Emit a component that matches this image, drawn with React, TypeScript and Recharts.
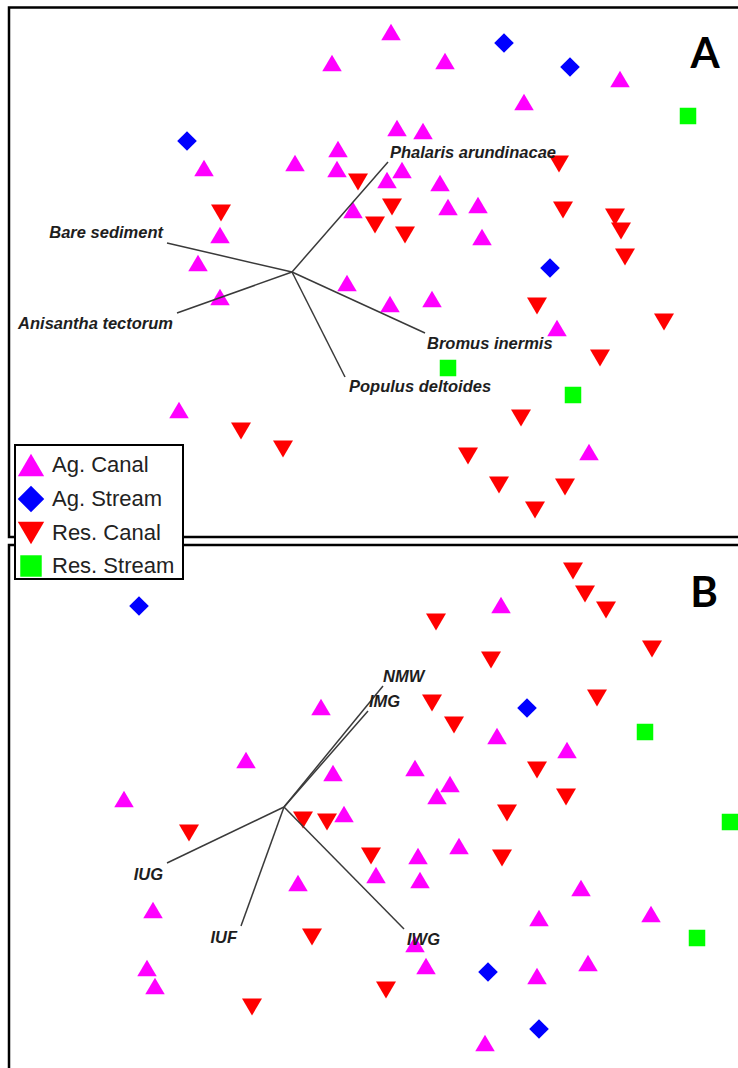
import React from 'react';
import {
  ScatterChart,
  Scatter,
  XAxis,
  YAxis,
  ReferenceLine,
  ReferenceArea,
  ReferenceDot,
  Legend,
} from 'recharts';

// ---------- series names ----------
const SERIES = ['Ag. Canal', 'Ag. Stream', 'Res. Canal', 'Res. Stream'];

// ---------- Panel A (ordination scores, plot units) ----------
const aAgCanal: number[][] = [
  [391, 32], [332, 63], [445, 61], [620, 79], [524, 102], [397, 128], [423, 131],
  [338, 149], [204, 168], [295, 163], [337, 169], [402, 170], [387, 180], [440, 183],
  [353, 210], [448, 207], [478, 205], [220, 235], [482, 237], [198, 263], [347, 283],
  [220, 297], [390, 304], [432, 299], [557, 328], [179, 410], [589, 452],
];
const aAgStream: number[][] = [[504, 43], [570, 67], [187, 141], [550, 268]];
const aResCanal: number[][] = [
  [559, 164], [358, 182], [392, 207], [563, 210], [221, 213], [615, 217], [375, 225],
  [405, 235], [621, 231], [625, 257], [537, 306], [664, 322], [600, 358], [521, 418],
  [241, 431], [283, 449], [468, 456], [499, 485], [565, 487], [535, 510],
];
const aResStream: number[][] = [[688, 116], [448, 368], [573, 395]];
const aOrigin = { x: 292, y: 272 };
const aVectors = [
  { name: 'Phalaris arundinacae', x: 388, y: 162 },
  { name: 'Bare sediment', x: 167, y: 243 },
  { name: 'Anisantha tectorum', x: 177, y: 313 },
  { name: 'Populus deltoides', x: 345, y: 377 },
  { name: 'Bromus inermis', x: 425, y: 333 },
];

// ---------- Panel B ----------
const bAgCanal: number[][] = [
  [501, 605], [321, 707], [497, 736], [567, 750], [246, 760], [415, 768], [333, 773],
  [450, 784], [437, 796], [124, 799], [344, 814], [459, 846], [418, 856], [376, 875],
  [420, 880], [298, 883], [581, 888], [153, 910], [651, 914], [539, 918], [415, 944],
  [588, 963], [426, 966], [147, 968], [537, 976], [155, 986], [485, 1043],
];
const bAgStream: number[][] = [[139, 606], [527, 708], [488, 972], [539, 1029]];
const bResCanal: number[][] = [
  [573, 571], [585, 594], [606, 610], [436, 622], [652, 649], [491, 660], [597, 698],
  [432, 703], [454, 725], [537, 770], [566, 797], [507, 813], [303, 820], [327, 822],
  [189, 833], [371, 856], [502, 858], [312, 937], [386, 990], [252, 1007],
];
const bResStream: number[][] = [[645, 732], [730, 822], [697, 938]];
const bOrigin = { x: 284, y: 807 };
const bVectors = [
  { name: 'NMW', x: 383, y: 686 },
  { name: 'IMG', x: 368, y: 711 },
  { name: 'IUG', x: 167, y: 863 },
  { name: 'IUF', x: 241, y: 926 },
  { name: 'IWG', x: 404, y: 929 },
];

// ---------- styling ----------
const COLORS: Record<string, string> = {
  'Ag. Canal': '#FF00FF',
  'Ag. Stream': '#0000FF',
  'Res. Canal': '#FF0000',
  'Res. Stream': '#00FF00',
};

const LABEL_STYLE: Record<string, { anchor: 'start' | 'end'; dx: number; dy: number }> = {
  'Phalaris arundinacae': { anchor: 'start', dx: 2, dy: -10 },
  'Bare sediment': { anchor: 'end', dx: -4, dy: -11 },
  'Anisantha tectorum': { anchor: 'end', dx: -4, dy: 10 },
  'Populus deltoides': { anchor: 'start', dx: 4, dy: 9 },
  'Bromus inermis': { anchor: 'start', dx: 2, dy: 10 },
  NMW: { anchor: 'start', dx: 0, dy: -10 },
  IMG: { anchor: 'start', dx: 1, dy: -10 },
  IUG: { anchor: 'end', dx: -4, dy: 11 },
  IUF: { anchor: 'end', dx: -4, dy: 11 },
  IWG: { anchor: 'start', dx: 3, dy: 10 },
};

const W = 738;
const FONT = '"Liberation Sans", Arial, sans-serif';

// ---------- marker shapes ----------
function markerPath(kind: string, cx: number, cy: number, scale = 1): React.ReactElement {
  const fill = COLORS[kind];
  if (kind === 'Ag. Canal') {
    const w = 19.5 * scale, h = 16.5 * scale;
    return <polygon points={`${cx},${cy - h / 2} ${cx + w / 2},${cy + h / 2} ${cx - w / 2},${cy + h / 2}`} fill={fill} />;
  }
  if (kind === 'Res. Canal') {
    const w = 20 * scale, h = 17 * scale;
    return <polygon points={`${cx - w / 2},${cy - h / 2} ${cx + w / 2},${cy - h / 2} ${cx},${cy + h / 2}`} fill={fill} />;
  }
  if (kind === 'Ag. Stream') {
    const r = 9.8 * scale;
    return <polygon points={`${cx},${cy - r} ${cx + r},${cy} ${cx},${cy + r} ${cx - r},${cy}`} fill={fill} />;
  }
  const s = 16.5 * scale;
  return <rect x={cx - s / 2} y={cy - s / 2} width={s} height={s} fill={fill} />;
}

const toPts = (arr: number[][]) => arr.map(([x, y]) => ({ x, y }));

const renderLegend = (props: any) => {
  const payload = [...(props.payload || [])].filter((p: any) => SERIES.includes(p.value));
  payload.sort((a: any, b: any) => SERIES.indexOf(a.value) - SERIES.indexOf(b.value));
  const centers = [19, 53, 87, 120];
  const iconScale: Record<string, number> = {
    'Ag. Canal': 1.35,
    'Ag. Stream': 1.35,
    'Res. Canal': 1.32,
    'Res. Stream': 1.3,
  };
  return (
    <div
      style={{
        position: 'relative',
        width: 170,
        height: 136,
        boxSizing: 'border-box',
        border: '2px solid #000',
        background: '#fff',
      }}
    >
      {payload.map((p: any, i: number) => (
        <div key={p.value} style={{ position: 'absolute', left: 0, top: centers[i] - 17, height: 34, width: 166 }}>
          <svg width={32} height={34} style={{ position: 'absolute', left: 0, top: 0 }}>
            {markerPath(p.value, 15, 17, iconScale[p.value])}
          </svg>
          <span
            style={{
              position: 'absolute',
              left: 36,
              top: 0,
              lineHeight: '34px',
              fontSize: 22,
              fontFamily: FONT,
              color: '#222',
              whiteSpace: 'nowrap',
            }}
          >
            {p.value}
          </span>
        </div>
      ))}
    </div>
  );
};

type PanelProps = {
  top: number;
  height: number;
  frameTop: number;
  frameBottom: number;
  series: { name: string; data: number[][] }[];
  origin: { x: number; y: number };
  vectors: { name: string; x: number; y: number }[];
  tag: string;
  tagPos: { x: number; y: number };
  legend?: boolean;
};

function Panel({ top, height, frameTop, frameBottom, series, origin, vectors, tag, tagPos, legend }: PanelProps) {
  return (
    <ScatterChart width={W} height={height} margin={{ top: 0, right: 0, bottom: 0, left: 0 }}>
      <XAxis type="number" dataKey="x" domain={[0, W]} hide allowDataOverflow />
      <YAxis type="number" dataKey="y" domain={[top, top + height]} hide reversed allowDataOverflow />
      <ReferenceArea
        x1={9}
        x2={W + 20}
        y1={frameTop}
        y2={frameBottom}
        fill="none"
        fillOpacity={0}
        stroke="#000"
        strokeWidth={2.5}
        ifOverflow="visible"
      />
      {series.map((s) => (
        <Scatter
          key={s.name}
          name={s.name}
          data={toPts(s.data)}
          fill={COLORS[s.name]}
          isAnimationActive={false}
          shape={(p: any) => markerPath(s.name, p.cx, p.cy)}
        />
      ))}
      {vectors.map((v) => (
        <ReferenceLine
          key={v.name}
          segment={[{ x: origin.x, y: origin.y }, { x: v.x, y: v.y }]}
          stroke="#3a3a3a"
          strokeWidth={1.5}
          ifOverflow="visible"
          zIndex={700}
        />
      ))}
      {vectors.map((v) => {
        const st = LABEL_STYLE[v.name];
        return (
          <ReferenceDot
            key={'lbl-' + v.name}
            x={v.x}
            y={v.y}
            r={0}
            ifOverflow="visible"
            zIndex={800}
            shape={(p: any) => (
              <text
                x={p.cx + st.dx}
                y={p.cy + st.dy}
                textAnchor={st.anchor}
                dominantBaseline="central"
                fontFamily={FONT}
                fontStyle="italic"
                fontWeight={700}
                fontSize={16.5}
                fill="#1e1e1e"
              >
                {v.name}
              </text>
            )}
          />
        );
      })}
      <ReferenceDot
        x={tagPos.x}
        y={tagPos.y}
        r={0}
        ifOverflow="visible"
        shape={(p: any) => (
          <text x={p.cx} y={p.cy} textAnchor="middle" fontFamily="Lato, sans-serif" fontWeight={700} fontSize={42} fill="#000">
            {tag}
          </text>
        )}
      />
      {legend && (
        <Legend
          layout="vertical"
          align="center"
          verticalAlign="middle"
          content={renderLegend}
          wrapperStyle={{ left: 14, top: 444, width: 170, height: 136 }}
        />
      )}
    </ScatterChart>
  );
}

export default function App() {
  const order = ['Res. Canal', 'Res. Stream', 'Ag. Stream', 'Ag. Canal'];
  const aSeries: Record<string, number[][]> = {
    'Ag. Canal': aAgCanal,
    'Ag. Stream': aAgStream,
    'Res. Canal': aResCanal,
    'Res. Stream': aResStream,
  };
  const bSeries: Record<string, number[][]> = {
    'Ag. Canal': bAgCanal,
    'Ag. Stream': bAgStream,
    'Res. Canal': bResCanal,
    'Res. Stream': bResStream,
  };
  return (
    <div
      style={{
        position: 'absolute',
        left: 0,
        top: 0,
        width: W,
        height: 1068,
        overflow: 'hidden',
        background: '#fff',
      }}
    >
      <div style={{ position: 'absolute', left: 0, top: 541, zIndex: 1 }}>
        <Panel
          top={541}
          height={527}
          frameTop={545}
          frameBottom={1075}
          series={order.map((n) => ({ name: n, data: bSeries[n] }))}
          origin={bOrigin}
          vectors={bVectors}
          tag="B"
          tagPos={{ x: 704, y: 607 }}
        />
      </div>
      <div style={{ position: 'absolute', left: 0, top: 0, zIndex: 2 }}>
        <Panel
          top={0}
          height={541}
          frameTop={7.5}
          frameBottom={537}
          series={order.map((n) => ({ name: n, data: aSeries[n] }))}
          origin={aOrigin}
          vectors={aVectors}
          tag="A"
          tagPos={{ x: 705, y: 68 }}
          legend
        />
      </div>
    </div>
  );
}
